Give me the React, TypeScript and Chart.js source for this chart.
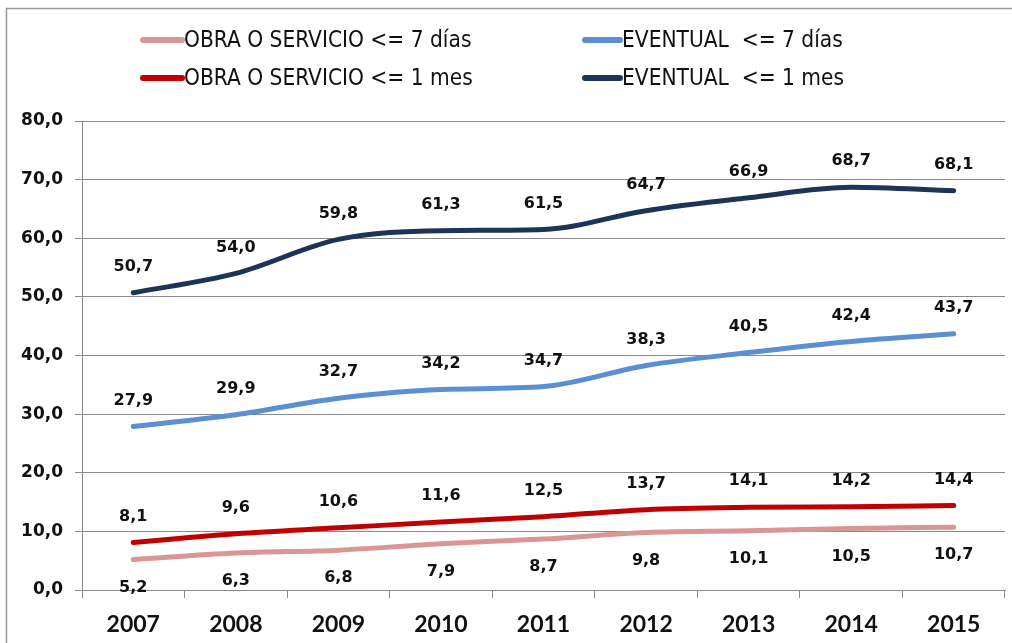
import React, { useEffect, useRef } from "react";
import { Chart, registerables } from "chart.js";

Chart.register(...registerables);

const years = ["2007", "2008", "2009", "2010", "2011", "2012", "2013", "2014", "2015"];
const obra7 = [5.2, 6.3, 6.8, 7.9, 8.7, 9.8, 10.1, 10.5, 10.7];
const obra1m = [8.1, 9.6, 10.6, 11.6, 12.5, 13.7, 14.1, 14.2, 14.4];
const event7 = [27.9, 29.9, 32.7, 34.2, 34.7, 38.3, 40.5, 42.4, 43.7];
const event1m = [50.7, 54.0, 59.8, 61.3, 61.5, 64.7, 66.9, 68.7, 68.1];
const seriesLabels = [
  "OBRA O SERVICIO <= 7 días",
  "OBRA O SERVICIO <= 1 mes",
  "EVENTUAL  <= 7 días",
  "EVENTUAL  <= 1 mes",
];
const seriesColors = ["#D99694", "#C00000", "#5B8FD4", "#1C3557"];
// label placement: -1 above, +1 below
const labelSide = [1, -1, -1, -1];

const fmt = (v: number) => v.toFixed(1).replace(".", ",");

const framePlugin = {
  id: "frame",
  beforeDraw(chart: any) {
    const { ctx, width, height } = chart;
    ctx.save();
    ctx.fillStyle = "#ffffff";
    ctx.fillRect(0, 0, width, height);
    ctx.strokeStyle = "#9a9a9a";
    ctx.lineWidth = 1.5;
    ctx.beginPath();
    ctx.moveTo(6.5, height);
    ctx.lineTo(6.5, 8.5);
    ctx.lineTo(width, 8.5);
    ctx.stroke();
    ctx.restore();
  },
  afterDraw(chart: any) {
    const { ctx, width, height } = chart;
    ctx.save();
    ctx.fillStyle = "#ffffff";
    ctx.fillRect(1007, 10, width - 1007, height - 10);
    ctx.restore();
  },
};

const legendPlugin = {
  id: "customLegend",
  afterDraw(chart: any) {
    const { ctx } = chart;
    const cols = [
      { lineX: 140, textX: 184 },
      { lineX: 582, textX: 622 },
    ];
    const rows = [40, 78];
    const order = [
      [0, 0, 0],
      [2, 1, 0],
      [1, 0, 1],
      [3, 1, 1],
    ];
    ctx.save();
    ctx.font = "22.5px 'Liberation Sans Narrow', 'DejaVu Sans Condensed', sans-serif";
    ctx.textBaseline = "middle";
    ctx.textAlign = "left";
    order.forEach(([di, c, r]) => {
      const ds = chart.data.datasets[di];
      const y = rows[r];
      ctx.strokeStyle = ds.borderColor;
      ctx.lineWidth = 6;
      ctx.lineCap = "round";
      ctx.beginPath();
      ctx.moveTo(cols[c].lineX + 3, y);
      ctx.lineTo(cols[c].textX - 2, y);
      ctx.stroke();
      ctx.fillStyle = "#111111";
      ctx.fillText(ds.label, cols[c].textX, y + 1);
    });
    ctx.restore();
  },
};

const dataLabelPlugin = {
  id: "dataLabels",
  afterDatasetsDraw(chart: any) {
    const { ctx } = chart;
    ctx.save();
    ctx.font = "bold 16px 'DejaVu Sans', sans-serif";
    ctx.fillStyle = "#111111";
    ctx.textAlign = "center";
    ctx.textBaseline = "middle";
    chart.data.datasets.forEach((ds: any, i: number) => {
      const meta = chart.getDatasetMeta(i);
      meta.data.forEach((pt: any, j: number) => {
        const off = labelSide[i] < 0 ? -26 : 28;
        ctx.fillText(fmt(ds.data[j]), pt.x, pt.y + off);
      });
    });
    ctx.restore();
  },
};

export default function App() {
  const ref = useRef<HTMLCanvasElement | null>(null);
  useEffect(() => {
    if (!ref.current) return;
    const all = [obra7, obra1m, event7, event1m];
    const chart = new Chart(ref.current, {
      type: "line",
      data: {
        labels: years,
        datasets: all.map((d, i) => ({
          label: seriesLabels[i],
          data: d,
          borderColor: seriesColors[i],
          backgroundColor: seriesColors[i],
          borderWidth: 5,
          pointRadius: 0,
          cubicInterpolationMode: "monotone" as const,
          borderCapStyle: "round" as const,
          fill: false,
        })),
      },
      options: {
        animation: false,
        responsive: false,
        maintainAspectRatio: false,
        layout: { padding: { top: 121, left: 20, right: 7, bottom: 6 } },
        plugins: {
          legend: { display: false },
          title: { display: false },
          tooltip: { enabled: false },
        },
        scales: {
          x: {
            offset: true,
            afterFit: (s: any) => {
              s.height = 47;
            },
            grid: {
              offset: true,
              drawOnChartArea: false,
              drawTicks: true,
              tickLength: 8,
              color: "#8a8a8a",
            },
            border: { color: "#8a8a8a", width: 1 },
            ticks: {
              color: "#111111",
              font: { family: "Lato, 'Open Sans', sans-serif", size: 23, weight: "bold" },
              padding: 13,
              maxRotation: 0,
            },
          },
          y: {
            min: 0,
            max: 80,
            afterFit: (s: any) => {
              s.width = 62;
            },
            grid: { color: "#8a8a8a", tickLength: 7, lineWidth: 1 },
            border: { color: "#8a8a8a", width: 1 },
            ticks: {
              stepSize: 10,
              color: "#111111",
              padding: 12,
              font: { family: "'DejaVu Sans', sans-serif", size: 17, weight: "bold" },
              callback: (v: any) => fmt(Number(v)),
            },
          },
        },
      },
      plugins: [framePlugin, legendPlugin, dataLabelPlugin],
    });
    return () => chart.destroy();
  }, []);
  return (
    <div style={{ position: "fixed", left: 0, top: 0, width: 1012, height: 643, background: "#fff", overflow: "hidden" }}>
      <canvas ref={ref} width={1012} height={643} style={{ display: "block", width: 1012, height: 643 }} />
    </div>
  );
}
